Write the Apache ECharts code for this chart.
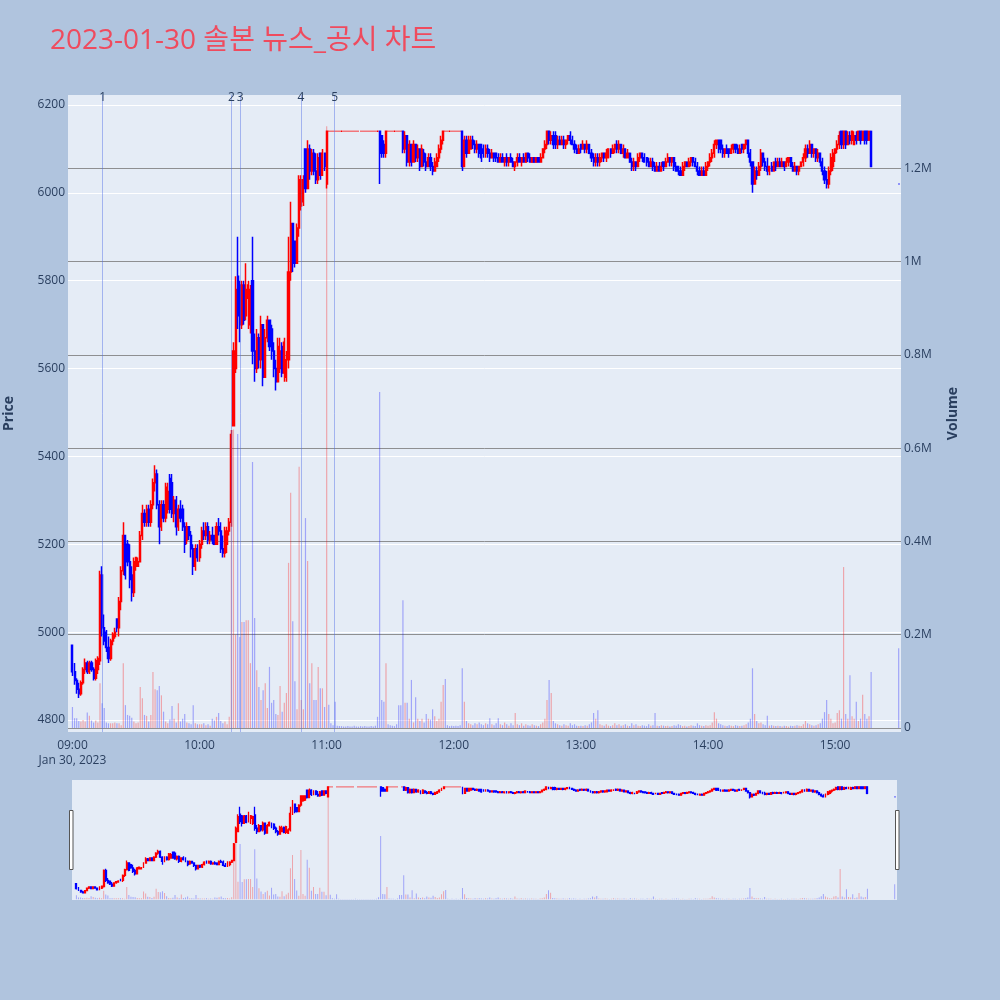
<!DOCTYPE html>
<html>
<head>
<meta charset="utf-8">
<script src="https://cdn.jsdelivr.net/npm/echarts@6/dist/echarts.min.js"></script>
<style>
html,body{margin:0;padding:0;background:#b0c4de;}
#chart{width:1000px;height:1000px;}
</style>
</head>
<body>
<div id="chart"></div>
<script>
// ---- DATA (minutes after 09:00; [open, high, low, close]) ----
const h09 = [
[4970,4970,4900,4910],[4910,4930,4880,4890],[4890,4895,4860,4870],[4870,4885,4850,4860],[4860,4890,4855,4885],
[4885,4920,4880,4915],[4915,4940,4905,4930],[4930,4935,4905,4910],[4910,4935,4905,4930],[4930,4935,4910,4915],
[4915,4920,4890,4895],[4895,4940,4890,4935],[4915,4945,4905,4940],[4935,5140,4925,5130],[5130,5150,4990,5010],
[5010,5040,4970,4980],[5000,5005,4955,4965],[4965,4990,4930,4940],[4940,4985,4935,4980],[4980,5000,4970,4995],
[4990,5010,4985,5000],[5030,5030,5000,5010],[5010,5080,4990,5070],[5070,5150,5050,5140],[5140,5250,5130,5220],
[5220,5220,5120,5130],[5200,5210,5150,5160],[5160,5200,5100,5120],[5130,5150,5070,5090],[5090,5170,5080,5160],
[5150,5170,5140,5170],[5150,5170,5150,5160],[5160,5230,5160,5220],[5220,5290,5210,5270],[5270,5280,5240,5250],
[5250,5290,5240,5280],[5280,5290,5240,5250],[5250,5300,5240,5290],[5290,5350,5280,5340],[5340,5380,5320,5360],
[5360,5370,5280,5290],[5290,5300,5200,5240],[5240,5300,5230,5290],[5290,5300,5250,5260],[5260,5340,5250,5330],
[5280,5340,5270,5320],[5350,5360,5270,5280],[5340,5360,5260,5270],[5270,5310,5250,5300],[5300,5310,5220,5240],
[5240,5290,5230,5280],[5280,5300,5250,5260],[5280,5290,5230,5240],[5240,5250,5180,5200],[5210,5250,5200,5240],
[5240,5240,5210,5220],[5220,5230,5170,5190],[5190,5200,5130,5150],[5150,5200,5140,5190],[5190,5200,5160,5170]
];
const h10 = [
[5170,5210,5160,5200],[5200,5240,5190,5230],[5230,5250,5210,5220],[5220,5250,5210,5240],[5240,5250,5200,5210],
[5210,5230,5200,5220],[5220,5240,5200,5210],[5220,5220,5200,5200],[5200,5250,5200,5240],[5240,5260,5220,5230],
[5230,5250,5180,5190],[5190,5220,5170,5180],[5180,5240,5170,5230],[5200,5240,5180,5230],[5230,5260,5220,5250],
[5250,5460,5240,5450],[5470,5660,5470,5640],[5600,5810,5590,5780],[5810,5900,5690,5720],[5790,5800,5660,5700],
[5700,5800,5690,5790],[5790,5800,5700,5710],[5720,5840,5710,5780],[5760,5800,5690,5790],[5700,5790,5680,5780],
[5800,5900,5610,5640],[5640,5680,5570,5600],[5600,5690,5590,5670],[5670,5680,5600,5620],[5620,5720,5600,5700],
[5700,5700,5560,5580],[5580,5690,5580,5670],[5670,5720,5660,5710],[5710,5710,5640,5650],[5690,5700,5620,5640],
[5640,5660,5580,5600],[5600,5620,5550,5570],[5570,5670,5570,5650],[5600,5670,5590,5640],[5650,5660,5580,5590],
[5590,5670,5570,5660],[5580,5640,5570,5620],[5620,5900,5600,5820],[5820,5980,5800,5930],[5930,5930,5820,5840],
[5890,5890,5830,5840],[5840,5930,5840,5920],[5920,6040,5900,6030],[5970,6040,5960,6030],[5980,6040,5970,6030],
[6100,6100,6000,6010],[6010,6120,6010,6100],[6100,6110,6030,6050],[6050,6100,6040,6090],[6090,6100,6040,6050],
[6050,6090,6020,6030],[6030,6090,6020,6080],[6090,6090,6030,6040],[6040,6100,6040,6090],[6090,6090,6050,6060]
];
const h11 = [
[6020,6140,6010,6140],[6140,6140,6140,6140],[6140,6140,6140,6140],[6140,6140,6140,6140],[6140,6140,6140,6140],
[6140,6140,6140,6140],[6140,6140,6140,6140],[6140,6140,6140,6140],[6140,6140,6140,6140],[6140,6140,6140,6140],
[6140,6140,6140,6140],[6140,6140,6140,6140],[6140,6140,6140,6140],[6140,6140,6140,6140],[6140,6140,6140,6140],
[6140,6140,6140,6140],[6140,6140,6140,6140],[6140,6140,6140,6140],[6140,6140,6140,6140],[6140,6140,6140,6140],
[6140,6140,6140,6140],[6140,6140,6140,6140],[6140,6140,6140,6140],[6140,6140,6140,6140],[6140,6140,6140,6140],
[6140,6140,6020,6090],[6130,6130,6080,6090],[6110,6120,6080,6090],[6090,6140,6080,6140],[6140,6140,6140,6140],
[6140,6140,6140,6140],[6140,6140,6140,6140],[6140,6140,6140,6140],[6140,6140,6140,6140],[6140,6140,6140,6140],
[6140,6140,6140,6140],[6140,6140,6090,6100],[6100,6140,6090,6130],[6130,6130,6060,6070],[6070,6120,6060,6110],
[6110,6110,6060,6070],[6070,6120,6070,6110],[6110,6110,6070,6080],[6080,6110,6070,6100],[6100,6100,6050,6060],
[6060,6110,6060,6100],[6090,6100,6060,6070],[6070,6090,6050,6060],[6060,6090,6060,6080],[6080,6090,6050,6060],
[6060,6070,6040,6050],[6050,6080,6050,6070],[6060,6090,6060,6080],[6080,6110,6070,6100],[6100,6130,6090,6120],
[6120,6140,6110,6140],[6140,6140,6140,6140],[6140,6140,6140,6140],[6140,6140,6140,6140],[6140,6140,6140,6140]
];
const h12 = [
[6140,6140,6140,6140],[6140,6140,6140,6140],[6140,6140,6140,6140],[6140,6140,6140,6140],[6140,6140,6050,6060],
[6060,6130,6060,6120],[6120,6130,6080,6090],[6090,6130,6090,6120],[6100,6130,6100,6120],[6120,6130,6100,6110],
[6110,6120,6090,6100],[6100,6120,6090,6110],[6110,6110,6080,6090],[6110,6110,6070,6080],[6100,6110,6080,6090],
[6090,6110,6080,6100],[6100,6110,6080,6090],[6090,6100,6070,6080],[6080,6100,6080,6090],[6090,6090,6070,6080],
[6090,6090,6070,6080],[6080,6090,6070,6070],[6070,6090,6070,6080],[6080,6090,6070,6070],[6070,6080,6060,6080],
[6080,6090,6060,6070],[6070,6080,6060,6080],[6080,6090,6070,6070],[6070,6080,6060,6060],[6060,6070,6050,6070],
[6070,6090,6060,6080],[6080,6090,6070,6070],[6070,6080,6060,6080],[6080,6090,6070,6070],[6070,6090,6070,6090],
[6090,6090,6070,6080],[6080,6090,6070,6070],[6070,6080,6070,6080],[6080,6080,6070,6070],[6070,6080,6070,6080],
[6080,6080,6070,6070],[6070,6090,6070,6080],[6080,6100,6080,6100],[6100,6120,6090,6110],[6110,6140,6100,6140],
[6140,6140,6110,6120],[6120,6140,6110,6130],[6130,6140,6100,6110],[6130,6140,6100,6110],[6110,6130,6100,6120],
[6120,6130,6110,6110],[6110,6130,6110,6120],[6120,6130,6100,6110],[6110,6120,6100,6120],[6120,6130,6110,6130],
[6130,6140,6110,6120],[6120,6130,6110,6110],[6110,6120,6090,6100],[6100,6110,6090,6090],[6090,6110,6090,6100]
];
const h13 = [
[6110,6110,6090,6100],[6100,6120,6100,6110],[6110,6110,6090,6100],[6100,6120,6090,6110],[6110,6110,6090,6090],
[6090,6100,6070,6080],[6080,6090,6060,6070],[6070,6090,6060,6080],[6080,6090,6060,6070],[6070,6090,6060,6080],
[6080,6090,6070,6090],[6090,6090,6070,6080],[6080,6100,6070,6090],[6080,6100,6080,6100],[6100,6100,6080,6090],
[6090,6110,6090,6100],[6100,6110,6090,6110],[6110,6120,6090,6100],[6100,6120,6090,6110],[6110,6110,6090,6090],
[6090,6110,6080,6100],[6100,6100,6080,6080],[6080,6100,6080,6090],[6090,6090,6070,6070],[6070,6080,6050,6060],
[6060,6080,6050,6070],[6070,6070,6050,6060],[6060,6090,6060,6080],[6080,6090,6070,6090],[6090,6090,6070,6080],
[6080,6090,6070,6070],[6080,6080,6060,6070],[6070,6080,6060,6060],[6060,6080,6060,6070],[6070,6080,6050,6060],
[6060,6070,6050,6050],[6050,6070,6050,6060],[6060,6070,6050,6050],[6050,6070,6050,6060],[6070,6070,6050,6060],
[6060,6080,6060,6070],[6070,6090,6070,6080],[6080,6080,6060,6070],[6070,6080,6060,6080],[6080,6080,6050,6060],
[6060,6070,6050,6050],[6060,6060,6040,6050],[6050,6060,6040,6040],[6040,6070,6040,6060],[6060,6070,6050,6070],
[6070,6070,6060,6060],[6060,6080,6060,6070],[6070,6080,6060,6080],[6080,6080,6060,6070],[6070,6080,6060,6060],
[6060,6070,6040,6050],[6050,6060,6040,6040],[6040,6060,6040,6050],[6050,6060,6040,6040],[6040,6070,6040,6060]
];
const h14 = [
[6060,6070,6050,6070],[6070,6090,6060,6080],[6080,6100,6070,6090],[6090,6120,6080,6110],[6110,6120,6100,6120],
[6120,6120,6090,6100],[6120,6120,6090,6100],[6100,6110,6080,6090],[6090,6100,6080,6100],[6100,6110,6090,6090],
[6100,6100,6080,6090],[6090,6110,6090,6100],[6100,6110,6090,6110],[6110,6110,6090,6100],[6100,6110,6090,6090],
[6090,6110,6090,6100],[6110,6110,6090,6100],[6100,6110,6090,6110],[6110,6120,6100,6120],[6120,6120,6080,6090],
[6090,6100,6060,6070],[6070,6070,6000,6020],[6020,6060,6020,6050],[6050,6060,6030,6040],[6040,6070,6040,6060],
[6060,6100,6050,6090],[6090,6090,6060,6070],[6070,6080,6050,6060],[6060,6080,6040,6050],[6050,6060,6040,6060],
[6060,6070,6050,6050],[6050,6070,6050,6070],[6070,6080,6050,6060],[6060,6080,6060,6070],[6070,6080,6060,6060],
[6060,6080,6060,6070],[6070,6070,6050,6060],[6060,6080,6060,6070],[6070,6080,6060,6080],[6080,6080,6060,6060],
[6060,6070,6050,6050],[6050,6070,6050,6060],[6060,6060,6040,6050],[6050,6060,6040,6060],[6060,6070,6060,6070],
[6070,6090,6060,6080],[6080,6110,6070,6100],[6100,6110,6080,6090],[6090,6120,6090,6110],[6110,6110,6080,6090],
[6090,6100,6080,6100],[6100,6100,6070,6080],[6080,6100,6070,6090],[6090,6090,6060,6070],[6070,6080,6040,6050],
[6050,6060,6020,6030],[6030,6050,6010,6020],[6020,6060,6010,6050],[6050,6090,6040,6080],[6060,6100,6050,6090]
];
const h15 = [
[6090,6100,6070,6100],[6100,6120,6090,6110],[6110,6140,6100,6130],[6140,6140,6100,6110],[6110,6140,6100,6140],
[6140,6140,6100,6110],[6110,6140,6110,6130],[6130,6140,6110,6120],[6120,6140,6110,6140],[6110,6140,6110,6130],
[6130,6140,6110,6120],[6120,6140,6120,6140],[6140,6140,6110,6120],[6120,6140,6120,6140],[6140,6140,6110,6120],
[6140,6140,6110,6120],[6120,6140,6120,6140],[6140,6140,6060,6060]
];
const closingAuction = [6020,6020,6020,6020];   // 15:30
const closingAuctionMinute = 390;

const vol09 = [45000,21000,21000,15000,14000,17000,14000,33000,26000,16000,12000,16000,12000,96000,53000,43000,12000,10000,10000,10000,
12000,10000,10000,6000,139000,49000,28000,26000,22000,14000,10000,12000,88000,64000,28000,26000,14000,28000,120000,83000,
81000,90000,70000,35000,14000,10000,18000,47000,20000,12000,53000,14000,20000,30000,12000,10000,8000,49000,10000,8000];
const vol10 = [8000,8000,10000,6000,8000,5000,20000,16000,24000,32000,15000,10000,14000,8000,24000,450000,640000,200000,630000,195000,
227000,227000,231000,231000,139000,570000,236000,124000,88000,60000,81000,96000,43000,131000,54000,60000,30000,28000,90000,35000,
54000,75000,354000,504000,229000,100000,40000,560000,60000,40000,450000,358000,96000,139000,60000,60000,131000,85000,85000,45000];
const vol11 = [1290000,50000,10000,6000,56000,5000,4000,4000,3000,3000,4000,3000,3000,5000,3000,3000,4000,3000,4000,3000,
3000,4000,3000,5000,24000,720000,60000,56000,139000,8000,6000,5000,4000,8000,49000,49000,274000,54000,54000,20000,
103000,12000,66000,20000,15000,20000,12000,30000,20000,18000,40000,25000,15000,20000,56000,92000,105000,6000,4000,5000];
const vol12 = [4000,5000,4000,6000,128000,56000,15000,10000,8000,6000,10000,8000,12000,8000,6000,10000,8000,21000,8000,6000,
10000,21000,8000,6000,12000,8000,5000,10000,6000,32000,8000,6000,10000,5000,8000,6000,5000,8000,6000,5000,
4000,8000,12000,20000,60000,103000,75000,15000,10000,8000,6000,5000,8000,6000,5000,10000,6000,8000,5000,4000];
const vol13 = [5000,4000,6000,5000,8000,12000,32000,20000,38000,8000,6000,5000,8000,5000,4000,6000,10000,6000,8000,5000,
6000,8000,5000,4000,10000,6000,8000,5000,4000,6000,5000,4000,8000,5000,6000,32000,5000,4000,6000,5000,
4000,5000,3000,4000,6000,5000,8000,6000,4000,5000,3000,4000,6000,5000,4000,10000,6000,5000,4000,6000];
const vol14 = [5000,6000,12000,34000,20000,10000,8000,6000,5000,4000,6000,5000,4000,6000,5000,4000,5000,6000,8000,12000,
20000,128000,30000,15000,10000,12000,8000,6000,26000,5000,6000,5000,4000,5000,4000,3000,5000,4000,3000,5000,
4000,5000,6000,5000,4000,8000,15000,10000,8000,6000,5000,6000,8000,10000,20000,34000,60000,30000,20000,10000];
const vol15 = [12000,32000,38000,20000,345000,30000,20000,113000,25000,20000,56000,15000,20000,71000,30000,20000,25000,120000];
const volClosingAuction = 171000;

const newsMarks = [ {name:'1', minute:14.3}, {name:'2', minute:75.0}, {name:'3', minute:79.2}, {name:'4', minute:107.9}, {name:'5', minute:123.8} ];

const titleText = '2023-01-30 솔본 뉴스_공시 차트';

// ---- build series data ----
const ohlcAll = [].concat(h09,h10,h11,h12,h13,h14,h15);
const volAll = [].concat(vol09,vol10,vol11,vol12,vol13,vol14,vol15);
const candles = [], bars = [];
function push(minute, q, v){
  const o=q[0], h=q[1], l=q[2], c=q[3];
  candles.push([minute, o, c, l, h]);
  bars.push({value:[minute, v], itemStyle:{color: c > o ? 'rgba(255,0,0,0.3)' : 'rgba(0,0,255,0.3)'}});
}
ohlcAll.forEach((q,i)=>push(i, q, volAll[i]));
push(closingAuctionMinute, closingAuction, volClosingAuction);

const XMIN = -2.1, XMAX = 391.1;
const PMIN = 4772.7, PMAX = 6222.8;
const VMIN = -8600, VMAX = 1356900;
const FONT = '"Open Sans", "Noto Sans CJK KR", sans-serif';
const AX = '#2a3f5f';

const chart = echarts.init(document.getElementById('chart'), null, {renderer:'canvas'});
chart.setOption({
  backgroundColor: '#b0c4de',
  animation: false,
  textStyle: {fontFamily: FONT},
  title: {text: titleText, left: 45, top: 22, textStyle:{color:'#ef4b5e', fontSize: 28, fontWeight:'normal', fontFamily: FONT}},
  grid: [
    {left: 68, top: 95, width: 833, height: 637, show: true, backgroundColor: '#e5ecf6', borderWidth: 0, containLabel:false, outerBoundsMode:'none'},
    {left: 72, top: 780, width: 825, height: 120, show: true, backgroundColor: '#e5ecf6', borderWidth: 0, containLabel:false, outerBoundsMode:'none'}
  ],
  xAxis: [
    {type:'value', gridIndex:0, min:XMIN, max:XMAX, splitLine:{show:false}, axisLine:{show:false}, axisTick:{show:false},
     axisLabel:{customValues:[0,60,120,180,240,300,360], color:AX, fontSize:12, margin:6, lineHeight:15, fontFamily:FONT,
       formatter: function(v){ const h = 9 + Math.round(v/60); const s = (h<10?'0':'')+h+':00'; return Math.round(v)===0 ? s+'\nJan 30, 2023' : s; }}},
    {type:'value', gridIndex:1, min:XMIN, max:XMAX, show:false}
  ],
  yAxis: [
    {type:'value', gridIndex:0, position:'left', min:PMIN, max:PMAX, splitNumber:7,
     axisLine:{show:false}, axisTick:{show:false},
     splitLine:{show:true, showMinLine:false, showMaxLine:false, lineStyle:{color:'#ffffff', width:1}},
     axisLabel:{color:AX, fontSize:12, margin:3, showMinLabel:false, showMaxLabel:false, fontFamily:FONT,
       formatter: function(v){ return String(Math.round(v)); }},
     name:'Price', nameLocation:'middle', nameGap:52, nameTextStyle:{color:AX, fontSize:14, fontWeight:'bold', fontFamily:FONT}},
    {type:'value', gridIndex:0, position:'right', min:VMIN, max:VMAX, splitNumber:7,
     axisLine:{show:false}, axisTick:{show:false},
     splitLine:{show:true, showMinLine:false, showMaxLine:false, lineStyle:{color:'rgba(120,120,120,0.8)', width:1}},
     axisLabel:{color:AX, fontSize:12, margin:3, showMinLabel:false, showMaxLabel:false, fontFamily:FONT,
       formatter: function(v){ return Math.abs(v) < 1 ? '0' : (v/1e6) + 'M'; }},
     name:'Volume', nameLocation:'middle', nameGap:45, nameTextStyle:{color:AX, fontSize:14, fontWeight:'bold', fontFamily:FONT}},
    {type:'value', gridIndex:1, min:PMIN, max:PMAX, show:false, splitLine:{show:false}},
    {type:'value', gridIndex:1, min:VMIN, max:VMAX, show:false, splitLine:{show:false}}
  ],
  series: [
    {type:'bar', xAxisIndex:0, yAxisIndex:1, data: bars, barWidth: 1.2, z: 2, silent:true},
    {type:'candlestick', xAxisIndex:0, yAxisIndex:0, data: candles, encode:{x:0, y:[1,2,3,4]},
     barWidth: 1.6, z: 3, silent:true,
     itemStyle:{color:'#ff0000', color0:'#0000ff', borderColor:'#ff0000', borderColor0:'#0000ff', borderWidth:1.5},
     markLine:{symbol:'none', silent:true, z: 4,
       lineStyle:{color:'rgba(80,110,230,0.45)', width:1, type:'solid'},
       label:{show:true, position:'end', distance:-9, formatter:'{b}', color:AX, fontSize:12, fontFamily:FONT},
       data: newsMarks.map(d=>({name:d.name, xAxis:d.minute}))}},
    {type:'bar', xAxisIndex:1, yAxisIndex:3, data: bars, barWidth: 1, z: 2, silent:true},
    {type:'candlestick', xAxisIndex:1, yAxisIndex:2, data: candles, encode:{x:0, y:[1,2,3,4]},
     barWidth: 1.4, z: 3, silent:true,
     itemStyle:{color:'#ff0000', color0:'#0000ff', borderColor:'#ff0000', borderColor0:'#0000ff', borderWidth:1.3}}
  ],
  graphic: [
    {type:'rect', shape:{x:69.5, y:810.5, width:3.5, height:59}, style:{fill:'#ffffff', stroke:'#555555', lineWidth:1}, z:100},
    {type:'rect', shape:{x:895.5, y:810.5, width:3.5, height:59}, style:{fill:'#ffffff', stroke:'#555555', lineWidth:1}, z:100}
  ]
});
</script>
</body>
</html>
